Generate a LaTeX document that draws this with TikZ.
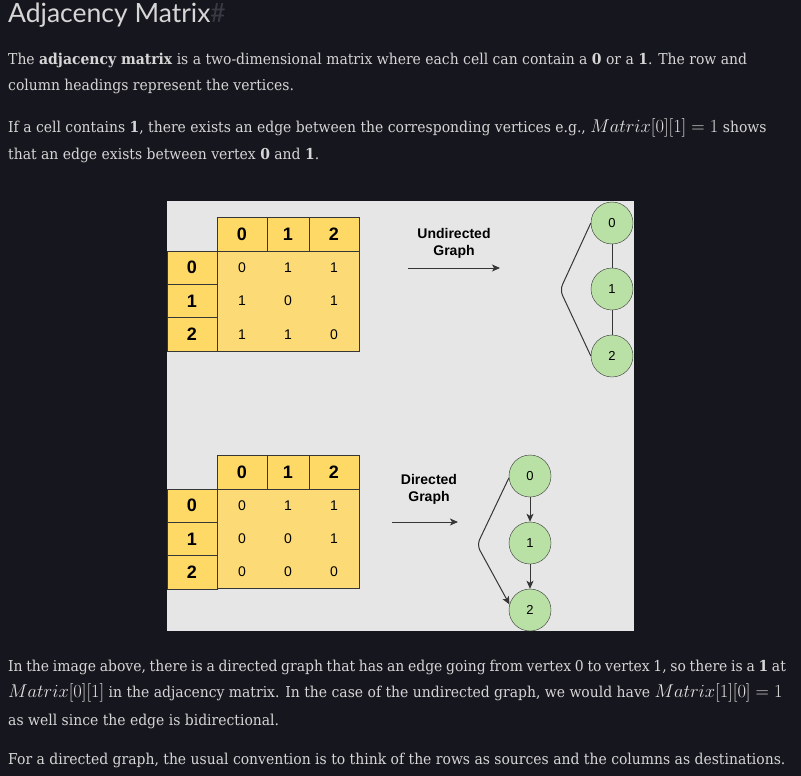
\RequirePackage{fix-cm}
\documentclass[tikz,border=0pt]{standalone}
\usepackage{fontspec}
\setmainfont{DejaVu Serif}[FakeStretch=0.93]
\newfontfamily\headfont{Lato}
\newfontfamily\diafont{Liberation Sans}
\usetikzlibrary{arrows.meta,positioning}
\definecolor{PageDark}{RGB}{22,22,30}
\definecolor{TextGrey}{RGB}{214,214,214}
\definecolor{MathGrey}{RGB}{226,226,226}
\definecolor{HashGrey}{RGB}{58,58,68}
\definecolor{PanelGrey}{RGB}{230,230,230}
\definecolor{CellYellow}{RGB}{255,217,102}
\definecolor{BodyYellow}{RGB}{252,219,118}
\definecolor{NodeGreen}{RGB}{185,224,165}
\definecolor{LineDark}{RGB}{54,54,54}
\newcommand{\kmath}[1]{{\fontsize{18.5}{18.5}\selectfont\color{MathGrey}$#1$}}

\begin{document}
\begin{tikzpicture}[x=1pt, y=-1pt,
    textline/.style={anchor=base west, inner sep=0pt, text=TextGrey, font=\fontsize{15}{18}\selectfont},
    hcell/.style={draw=LineDark, fill=CellYellow, inner sep=0pt, minimum height=33.4pt, font=\diafont\bfseries\fontsize{18}{18}\selectfont},
    cellval/.style={inner sep=0pt, font=\diafont\fontsize{14}{14}\selectfont},
    vnode/.style={circle, draw=LineDark, fill=NodeGreen, minimum size=42pt, inner sep=0pt, font=\diafont\fontsize{13}{13}\selectfont},
    glabel/.style={align=center, inner sep=0pt, font=\diafont\bfseries\fontsize{14}{17}\selectfont},
    edge/.style={draw=LineDark, line width=1pt},
    tip/.style={-{Stealth[length=8pt,width=7pt,inset=2pt]}}]
  \useasboundingbox (0,0) rectangle (801,776);
  \fill[PageDark] (0,0) rectangle (801,776);

  % page text above the picture
  \node[anchor=base west, inner sep=0pt, text=TextGrey, font=\headfont\fontsize{26.5}{26.5}\selectfont] (title) at (8,23) {Adjacency Matrix\textcolor{HashGrey}{\#}};
  \node[textline] (t1) at (8,65) {The \textbf{adjacency matrix} is a two-dimensional matrix where each cell can contain a \textbf{0} or a \textbf{1}. The row and};
  \node[textline] (t2) at (8,91) {column headings represent the vertices.};
  \node[textline] (t3) at (8,132) {If a cell contains \textbf{1}, there exists an edge between the corresponding vertices e.g., \kmath{Matrix[0][1] = 1} shows};
  \node[textline] (t4) at (8,159) {that an edge exists between vertex \textbf{0} and \textbf{1}.};

  % picture panel
  \fill[PanelGrey] (167,201) rectangle (634,631);

  % undirected matrix
  \draw[LineDark, fill=BodyYellow] (217,251) rectangle (359,351);
  \foreach \c/\x/\w in {0/242/50, 1/288/42, 2/334/50}
    \node[hcell, minimum width=\w pt] (u-c\c) at (\x,234.3) {\c};
  \foreach \r/\y in {0/267.7, 1/301, 2/334.3}
    \node[hcell, minimum width=50pt] (u-r\r) at (192,\y) {\r};
  \foreach \i in {0,1,2} {
    \foreach \j in {0,1,2} {
      \ifnum\j=\i \def\val{0}\else \def\val{1}\fi
      \node[cellval] (u-\i-\j) at (u-c\j |- u-r\i) {\val};
    }
  }

  % directed matrix
  \draw[LineDark, fill=BodyYellow] (217,489) rectangle (359,588.5);
  \foreach \c/\x/\w in {0/242/50, 1/288/42, 2/334/50}
    \node[hcell, minimum width=\w pt] (d-c\c) at (\x,472) {\c};
  \foreach \r/\y in {0/505.5, 1/539, 2/572}
    \node[hcell, minimum width=50pt] (d-r\r) at (192,\y) {\r};
  \foreach \i in {0,1,2} {
    \foreach \j in {0,1,2} {
      \ifnum\j>\i \def\val{1}\else \def\val{0}\fi
      \node[cellval] (d-\i-\j) at (d-c\j |- d-r\i) {\val};
    }
  }

  % undirected graph
  \node[glabel] (ulabel) at (454,243) {Undirected\\Graph};
  \coordinate (uarrA) at (408,268);
  \coordinate (uarrB) at (500,268);
  \draw[edge, tip] (uarrA) -- (uarrB);
  \node[vnode] (u0) at (612,223) {0};
  \node[vnode] (u1) at (612,289) {1};
  \node[vnode] (u2) at (612,356) {2};
  \coordinate (ubend) at (560,290);
  \draw[edge] (u0) -- (u1);
  \draw[edge] (u1) -- (u2);
  \draw[edge, rounded corners=6pt] (u0.west) -- (ubend) -- (u2.west);

  % directed graph
  \node[glabel] (dlabel) at (429,489) {Directed\\Graph};
  \coordinate (darrA) at (392,522);
  \coordinate (darrB) at (458,522);
  \draw[edge, tip] (darrA) -- (darrB);
  \node[vnode] (d0) at (530,476) {0};
  \node[vnode] (d1) at (530,543) {1};
  \node[vnode] (d2) at (530,610) {2};
  \coordinate (dbend) at (477,545);
  \draw[edge, tip] (d0) -- (d1);
  \draw[edge, tip] (d1) -- (d2);
  \draw[edge, tip, rounded corners=6pt] (d0.185) -- (dbend) -- (d2.165);

  % page text below the picture
  \node[textline] (b1) at (8,671) {\spaceskip=3.7pt In the image above, there is a directed graph that has an edge going from vertex 0 to vertex 1, so there is a \textbf{1} at};
  \node[textline] (b2) at (8,697) {\kmath{Matrix[0][1]} in the adjacency matrix. In the case of the undirected graph, we would have \kmath{Matrix[1][0] = 1}};
  \node[textline] (b3) at (8,725) {as well since the edge is bidirectional.};
  \node[textline] (b4) at (8,764) {For a directed graph, the usual convention is to think of the rows as sources and the columns as destinations.};
\end{tikzpicture}
\end{document}
